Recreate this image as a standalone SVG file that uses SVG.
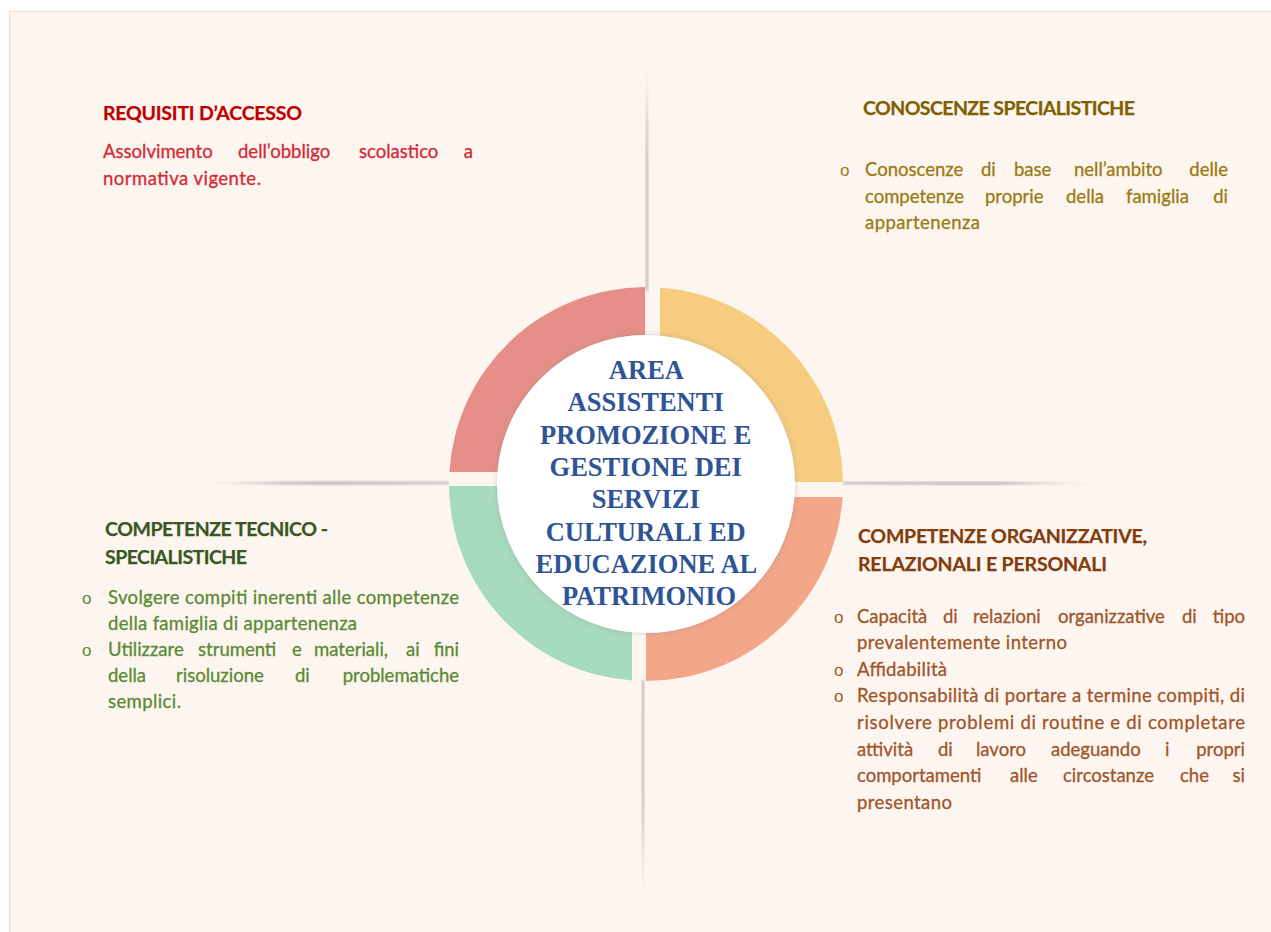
<svg xmlns="http://www.w3.org/2000/svg" width="1271" height="932" viewBox="0 0 1271 932">
<defs>
<style>
.h{font-family:Lato,'Liberation Sans',sans-serif;font-weight:700;font-size:19.5px;stroke-width:0.25px}
.b{font-family:Lato,'Liberation Sans',sans-serif;font-size:18.5px;stroke-width:0.3px}
.bul{font-family:'Liberation Sans',Arial,sans-serif;font-size:17px}
.ctr{font-family:'Liberation Serif','Times New Roman',serif;font-weight:700;font-size:26.5px;fill:#2f5496;text-anchor:middle}
.e{text-anchor:end}
.tlh{fill:#c00000;stroke:#c00000}.tlb{fill:#d42a36;stroke:#d42a36}
.trh{fill:#7f6000;stroke:#7f6000}.trb{fill:#9a7b12;stroke:#9a7b12}
.blh{fill:#385723;stroke:#385723}.blb{fill:#5a8a34;stroke:#5a8a34}
.brh{fill:#843c0c;stroke:#843c0c}.brb{fill:#a0552a;stroke:#a0552a}
.bul{stroke:none}
.line{filter:url(#soft)}
</style>
<linearGradient id="gTop" x1="0" y1="48" x2="0" y2="290" gradientUnits="userSpaceOnUse">
<stop offset="0" stop-color="#c4b6b7" stop-opacity="0"/>
<stop offset="0.3" stop-color="#c4b6b7" stop-opacity="0.9"/>
<stop offset="1" stop-color="#c4b6b7" stop-opacity="0.9"/>
</linearGradient>
<linearGradient id="gBot" x1="0" y1="681" x2="0" y2="918" gradientUnits="userSpaceOnUse">
<stop offset="0" stop-color="#c4b6b7" stop-opacity="0.9"/>
<stop offset="0.6" stop-color="#c4b6b7" stop-opacity="0.9"/>
<stop offset="1" stop-color="#c4b6b7" stop-opacity="0"/>
</linearGradient>
<linearGradient id="gLeft" x1="188" y1="0" x2="449" y2="0" gradientUnits="userSpaceOnUse">
<stop offset="0" stop-color="#c4b6b7" stop-opacity="0"/>
<stop offset="0.35" stop-color="#c4b6b7" stop-opacity="0.95"/>
<stop offset="1" stop-color="#c4b6b7" stop-opacity="0.8"/>
</linearGradient>
<linearGradient id="gRight" x1="843" y1="0" x2="1110" y2="0" gradientUnits="userSpaceOnUse">
<stop offset="0" stop-color="#c4b6b7" stop-opacity="0.85"/>
<stop offset="0.6" stop-color="#c4b6b7" stop-opacity="0.95"/>
<stop offset="1" stop-color="#c4b6b7" stop-opacity="0"/>
</linearGradient>
<filter id="soft" x="-10%" y="-10%" width="120%" height="120%"><feGaussianBlur stdDeviation="0.8"/></filter>
<filter id="shadow" x="-20%" y="-20%" width="140%" height="140%"><feDropShadow dx="0" dy="0" stdDeviation="3" flood-color="#8a8080" flood-opacity="0.35"/></filter>
</defs>

<rect x="0" y="0" width="1271" height="932" fill="#ffffff"/>
<rect x="9.5" y="11.5" width="1270" height="930" fill="#fdf6f0" stroke="#f3e3d6" stroke-width="1.5"/>

<g id="connectors">
<path class="line" d="M647,48 L648.4,170 L648.4,291 L645.6,291 L645.6,170 Z" fill="url(#gTop)"/>
<path class="line" d="M641.6,680 L644.4,680 L644.2,800 L643,918 L641.8,800 Z" fill="url(#gBot)"/>
<path class="line" d="M188,483 L320,481.2 L449,481.6 L449,484.6 L320,485 Z" fill="url(#gLeft)"/>
<path class="line" d="M843,481.6 L990,481.4 L1110,483.2 L990,485 L843,484.6 Z" fill="url(#gRight)"/>
</g>

<g id="ring-red"><path d="M645,287 A197,197 0 0 0 449.37,472 L497.48,472 A149,149 0 0 1 645,335 Z" fill="#e58f88"/></g>
<g id="ring-yellow"><path d="M660,287.5 A197,197 0 0 1 843,482 L795,482 A149,149 0 0 0 660,335.66 Z" fill="#f6cd80"/></g>
<g id="ring-orange"><path d="M842.57,497 A197,197 0 0 1 646,681 L646,633 A149,149 0 0 0 794.43,497 Z" fill="#f3a688"/></g>
<g id="ring-green"><path d="M632,680.5 A197,197 0 0 1 449.01,486 L497.01,486 A149,149 0 0 0 632,632.34 Z" fill="#a7dbbf"/></g>

<g id="center">
<circle cx="646" cy="484" r="149" fill="#ffffff" filter="url(#shadow)"/>
<text class="ctr">
<tspan x="649" y="379">AREA</tspan>
<tspan x="649" y="411">ASSISTENTI</tspan>
<tspan x="649" y="444">PROMOZIONE E</tspan>
<tspan x="649" y="476">GESTIONE DEI</tspan>
<tspan x="649" y="508">SERVIZI</tspan>
<tspan x="649" y="541">CULTURALI ED</tspan>
<tspan x="649" y="573">EDUCAZIONE AL</tspan>
<tspan x="649" y="605">PATRIMONIO</tspan>
</text>
</g>

<g id="requisiti">
<text class="h tlh" x="103" y="120" textLength="199">REQUISITI D’ACCESSO</text>
<text class="b tlb" y="158"><tspan x="103">Assolvimento</tspan><tspan x="238">dell’obbligo</tspan><tspan x="359">scolastico</tspan><tspan class="e" x="473">a</tspan></text>
<text class="b tlb" x="103" y="185" textLength="158">normativa vigente.</text>
</g>

<g id="conoscenze">
<text class="h trh" x="863" y="115" textLength="272">CONOSCENZE SPECIALISTICHE</text>
<text class="bul trb" x="840" y="176">o</text>
<text class="b trb" y="176"><tspan x="865">Conoscenze</tspan><tspan x="981">di</tspan><tspan x="1014">base</tspan><tspan x="1074">nell’ambito</tspan><tspan class="e" x="1228">delle</tspan></text>
<text class="b trb" y="203"><tspan x="865">competenze</tspan><tspan x="985">proprie</tspan><tspan x="1066">della</tspan><tspan x="1126">famiglia</tspan><tspan class="e" x="1228">di</tspan></text>
<text class="b trb" x="865" y="229" textLength="115">appartenenza</text>
</g>

<g id="tecnico">
<text class="h blh" x="105" y="536" textLength="223">COMPETENZE TECNICO -</text>
<text class="h blh" x="105" y="564" textLength="142">SPECIALISTICHE</text>
<text class="bul blb" x="82" y="604">o</text>
<text class="b blb" x="108" y="604" textLength="351">Svolgere compiti inerenti alle competenze</text>
<text class="b blb" x="108" y="630" textLength="249">della famiglia di appartenenza</text>
<text class="bul blb" x="82" y="656">o</text>
<text class="b blb" y="656"><tspan x="108">Utilizzare</tspan><tspan x="198">strumenti</tspan><tspan x="292">e</tspan><tspan x="314">materiali,</tspan><tspan x="406">ai</tspan><tspan class="e" x="459">fini</tspan></text>
<text class="b blb" y="682"><tspan x="108">della</tspan><tspan x="176">risoluzione</tspan><tspan x="295">di</tspan><tspan class="e" x="459">problematiche</tspan></text>
<text class="b blb" x="108" y="708" textLength="73">semplici.</text>
</g>

<g id="organizzative">
<text class="h brh" x="858" y="543" textLength="289">COMPETENZE ORGANIZZATIVE,</text>
<text class="h brh" x="858" y="571" textLength="249">RELAZIONALI E PERSONALI</text>
<text class="bul brb" x="834" y="623">o</text>
<text class="b brb" y="623"><tspan x="857">Capacità</tspan><tspan x="943">di</tspan><tspan x="973">relazioni</tspan><tspan x="1058">organizzative</tspan><tspan x="1182">di</tspan><tspan class="e" x="1245">tipo</tspan></text>
<text class="b brb" x="857" y="649" textLength="210">prevalentemente interno</text>
<text class="bul brb" x="834" y="676">o</text>
<text class="b brb" x="857" y="676" textLength="90">Affidabilità</text>
<text class="bul brb" x="834" y="702">o</text>
<text class="b brb" x="857" y="702" textLength="388">Responsabilità di portare a termine compiti, di</text>
<text class="b brb" x="857" y="729" textLength="388">risolvere problemi di routine e di completare</text>
<text class="b brb" y="756"><tspan x="857">attività</tspan><tspan x="938">di</tspan><tspan x="976">lavoro</tspan><tspan x="1051">adeguando</tspan><tspan x="1165">i</tspan><tspan class="e" x="1245">propri</tspan></text>
<text class="b brb" y="782"><tspan x="857">comportamenti</tspan><tspan x="1010">alle</tspan><tspan x="1063">circostanze</tspan><tspan x="1180">che</tspan><tspan class="e" x="1245">si</tspan></text>
<text class="b brb" x="857" y="809" textLength="95">presentano</text>
</g>
</svg>
